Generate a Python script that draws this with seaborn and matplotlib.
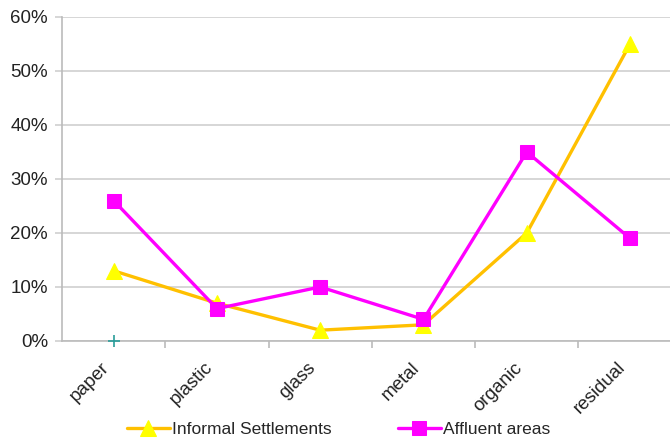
import matplotlib
matplotlib.use("Agg")
import matplotlib.pyplot as plt
import matplotlib.ticker as tic
import matplotlib.transforms as mtrans
import seaborn as sns
import pandas as pd

# values (percent)
categories = ["paper", "plastic", "glass", "metal", "organic", "residual"]
informal = [13, 7, 2, 3, 20, 55]
affluent = [26, 6, 10, 4, 35, 19]
extra_cat = ["paper"]
extra_val = [0]

sns.set_style("white")
plt.rcParams["font.family"] = ["Liberation Sans", "DejaVu Sans"]

fig = plt.figure(figsize=(6.7, 4.41), dpi=100)
ax = fig.add_axes([0.0925, 0.2268, 0.925, 0.7347])

x = list(range(len(categories)))
df = pd.DataFrame({"x": x, "Informal Settlements": informal, "Affluent areas": affluent})

sns.lineplot(data=df, x="x", y="Informal Settlements", ax=ax, color="#FFC000", lw=2.4,
             marker="^", markersize=11, markerfacecolor="#FFFF00", markeredgecolor="#FFFF00",
             label="Informal Settlements", zorder=3)
sns.lineplot(data=df, x="x", y="Affluent areas", ax=ax, color="#FF00FF", lw=2.4,
             marker="s", markersize=10, markerfacecolor="#FF00FF", markeredgecolor="#FF00FF",
             label="Affluent areas", zorder=4)
ax.plot([categories.index(c) for c in extra_cat], extra_val, ls="none", marker="+",
        color="#2A9D9A", markersize=9, mew=1.2, clip_on=False, zorder=5)

ax.set_xlim(-0.5, 5.5)
ax.set_ylim(0, 60)
ax.yaxis.set_major_locator(tic.MultipleLocator(10))
ax.yaxis.set_major_formatter(tic.FuncFormatter(lambda v, p: f"{v:.0f}%"))
ax.grid(axis="y", color="#D0D0D0", lw=1.2)
ax.set_axisbelow(True)

ax.set_xticks(x)
ax.set_xticklabels(categories, rotation=45, ha="right", rotation_mode="anchor", fontsize=13.5)
ax.set_xticks([i + 0.5 for i in x[:-1]], minor=True)
ax.tick_params(axis="x", which="major", length=0, pad=13)
ax.tick_params(axis="x", which="minor", length=5, color="#BBBBBB", width=1.2)
ax.tick_params(axis="y", length=5, color="#D0D0D0", width=1.2, labelsize=13.5, pad=5,
               labelcolor="#222222")
ax.tick_params(axis="x", labelcolor="#222222")
ax.yaxis.set_ticks_position("left")
ax.xaxis.set_ticks_position("bottom")
ax.set_xlabel("")
ax.set_ylabel("")

# shift the rotated category labels a little to the left
shift = mtrans.ScaledTranslation(-0.13, 0, fig.dpi_scale_trans)
for lab in ax.get_xticklabels():
    lab.set_transform(lab.get_transform() + shift)

for s in ["top", "right"]:
    ax.spines[s].set_visible(False)
for s in ["left", "bottom"]:
    ax.spines[s].set_color("#BBBBBB")
    ax.spines[s].set_linewidth(1.2)

ax.legend(loc="lower center", bbox_to_anchor=(0.505, 0.005), bbox_transform=fig.transFigure,
          ncol=2, frameon=False, fontsize=12.5, handlelength=2.5, handletextpad=0.1,
          columnspacing=3.8, borderaxespad=0.0, borderpad=0.1)

fig.savefig("out.png", dpi=100)
